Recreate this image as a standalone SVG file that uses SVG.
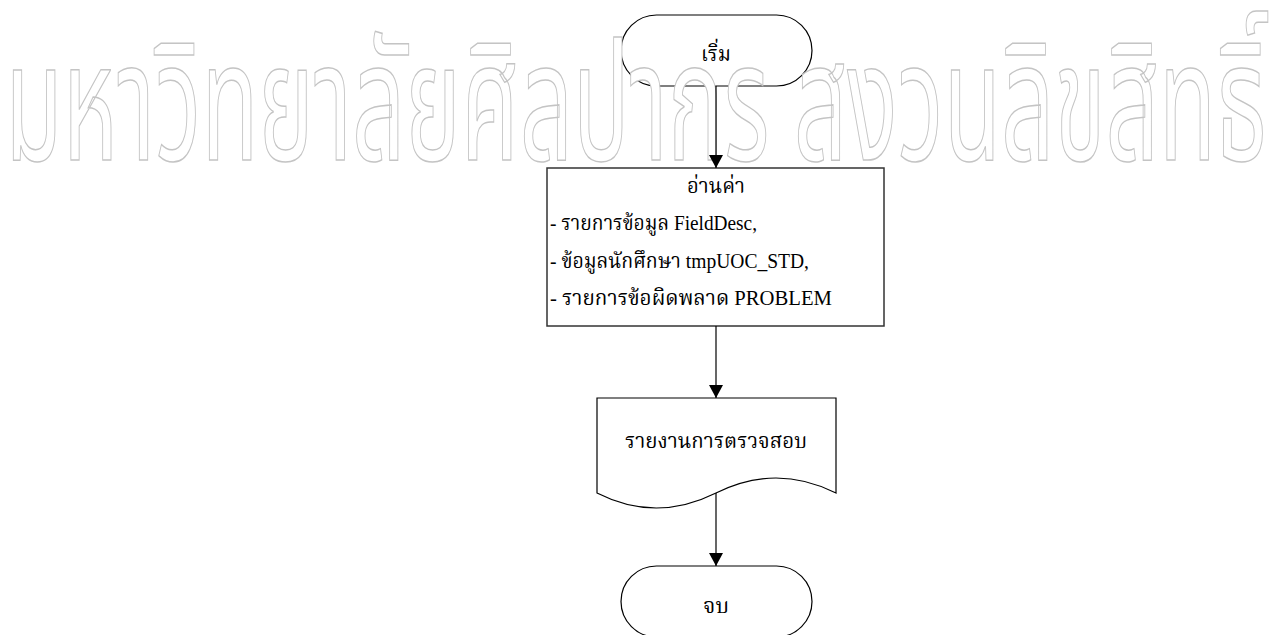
<svg xmlns="http://www.w3.org/2000/svg" width="1275" height="635" viewBox="0 0 1275 635">
<style>
.shape{fill:#fff;stroke:#000;stroke-width:1.2}
.box{fill:#fff;stroke:#333;stroke-width:1.5}
.conn{stroke:#000;stroke-width:1.2;fill:none}
.t{font-family:'Liberation Serif','Noto Serif Thai','Noto Sans Thai',serif;font-size:21px;fill:#000}
.wm{font-family:'Noto Sans Thai','Noto Sans','DejaVu Sans',sans-serif;font-size:165px;fill:#fff;stroke:#c4c4c4;stroke-width:1.5}
</style>
<defs>
<marker id="ah" viewBox="0 0 13 14" refX="13" refY="7" markerWidth="13" markerHeight="14" markerUnits="userSpaceOnUse" orient="auto">
<path d="M0,0 L13,7 L0,14 Z" fill="#000"/>
</marker>
</defs>
<rect width="1275" height="635" fill="#fff"/>
<g id="start">
<rect class="shape" x="621" y="15" width="191" height="71" rx="35.5"/>
<text class="t" x="716" y="61" text-anchor="middle" textLength="30" lengthAdjust="spacingAndGlyphs">เริ่ม</text>
</g>
<g id="read">
<rect class="box" x="547" y="168" width="337" height="158"/>
<text class="t" x="716" y="193" text-anchor="middle" textLength="58" lengthAdjust="spacingAndGlyphs">อ่านค่า</text>
<text class="t" x="550" y="230" textLength="207" lengthAdjust="spacingAndGlyphs">- รายการข้อมูล FieldDesc,</text>
<text class="t" x="550" y="268" textLength="259" lengthAdjust="spacingAndGlyphs">- ข้อมูลนักศึกษา tmpUOC_STD,</text>
<text class="t" x="550" y="305" textLength="282" lengthAdjust="spacingAndGlyphs">- รายการข้อผิดพลาด PROBLEM</text>
</g>
<g id="report">
<path class="shape" d="M597,398 L836,398 L836,493 Q776,463 716,493 T597,493 Z"/>
<text class="t" x="716" y="448" text-anchor="middle" textLength="182" lengthAdjust="spacingAndGlyphs">รายงานการตรวจสอบ</text>
</g>
<g id="end">
<rect class="shape" x="621" y="566" width="191" height="71" rx="35.5"/>
<text class="t" x="716" y="613" text-anchor="middle" textLength="26" lengthAdjust="spacingAndGlyphs">จบ</text>
</g>
<g id="watermark">
<text class="wm" x="5" y="160" textLength="1262" lengthAdjust="spacingAndGlyphs">มหาวิทยาลัยศิลปากร สงวนลิขสิทธิ์</text>
</g>
<g id="connectors">
<line class="conn" x1="716" y1="86" x2="716" y2="168" marker-end="url(#ah)"/>
<line class="conn" x1="716" y1="326" x2="716" y2="398" marker-end="url(#ah)"/>
<line class="conn" x1="716" y1="493" x2="716" y2="566" marker-end="url(#ah)"/>
</g>
</svg>
